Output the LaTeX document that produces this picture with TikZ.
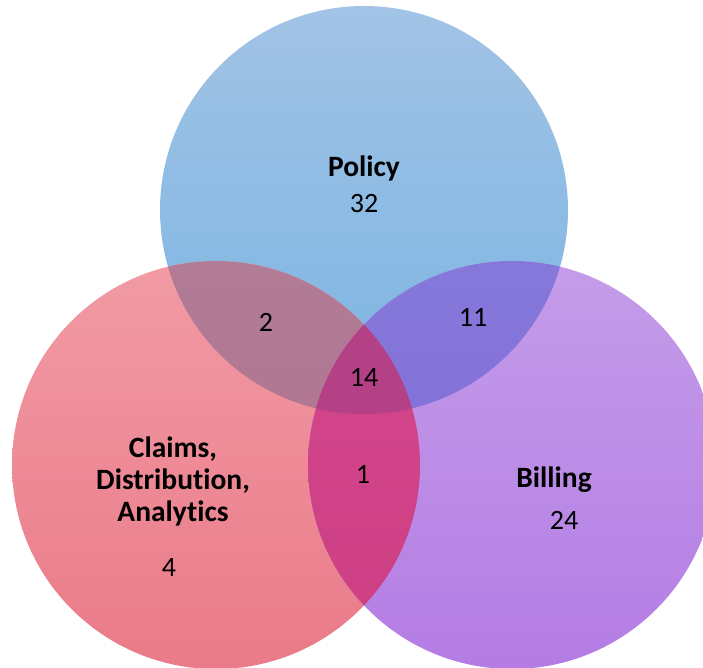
\documentclass[tikz,border=0pt]{standalone}
\usepackage{fontspec}
\setmainfont[Ligatures=NoCommon]{Carlito}
\definecolor{polT}{RGB}{162,195,229}
\definecolor{polB}{RGB}{122,180,226}
\definecolor{claT}{RGB}{241,155,165}
\definecolor{claB}{RGB}{234,122,136}
\definecolor{bilT}{RGB}{196,157,233}
\definecolor{bilB}{RGB}{180,124,228}
\definecolor{pcT}{RGB}{178,124,150}
\definecolor{pcB}{RGB}{174,110,140}
\definecolor{pbT}{RGB}{134,120,218}
\definecolor{pbB}{RGB}{126,104,214}
\definecolor{cbT}{RGB}{212,72,142}
\definecolor{cbB}{RGB}{204,62,130}
\definecolor{allT}{RGB}{180,64,134}
\tikzset{
  lbl/.style={font=\fontsize{29.5}{32}\selectfont\bfseries, inner sep=0pt},
  num/.style={font=\fontsize{28}{32}\selectfont, inner sep=0pt, anchor=base}
}
\begin{document}
\begin{tikzpicture}[x=1pt,y=-1pt]
\useasboundingbox (0,0) rectangle (703,668);
\coordinate (P) at (364,210);
\coordinate (C) at (216,465);
\coordinate (B) at (512,465);
\def\circP{(P) circle[radius=204pt]}
\def\circC{(C) circle[radius=204pt]}
\def\circB{(B) circle[radius=204pt]}
% circles
\shade[top color=polT, bottom color=polB] \circP;
\shade[top color=claT, bottom color=claB] \circC;
\shade[top color=bilT, bottom color=bilB] \circB;
% pairwise overlaps
\begin{scope}
  \clip \circP;
  \shade[top color=pcT, bottom color=pcB] \circC;
\end{scope}
\begin{scope}
  \clip \circP;
  \shade[top color=pbT, bottom color=pbB] \circB;
\end{scope}
\begin{scope}
  \clip \circC;
  \shade[top color=cbT, bottom color=cbB] \circB;
\end{scope}
% triple overlap
\begin{scope}
  \clip \circP;
  \clip \circC;
  \fill[allT] \circB;
\end{scope}
% labels
\node[lbl, anchor=base] (policy) at (364,177) {Policy};
\node[num] (n32) at (364,213) {32};
\node[num] (n2) at (266,331) {2};
\node[num] (n11) at (473,326) {11};
\node[num] (n14) at (364,386) {14};
\node[num] (n1) at (363,483) {1};
\node[lbl, align=center, anchor=center] (claims) at (173,481) {Claims,\\Distribution,\\Analytics};
\node[num] (n4) at (169,576) {4};
\node[lbl, anchor=base] (billing) at (554,487) {Billing};
\node[num] (n24) at (564,529) {24};
\end{tikzpicture}
\end{document}
